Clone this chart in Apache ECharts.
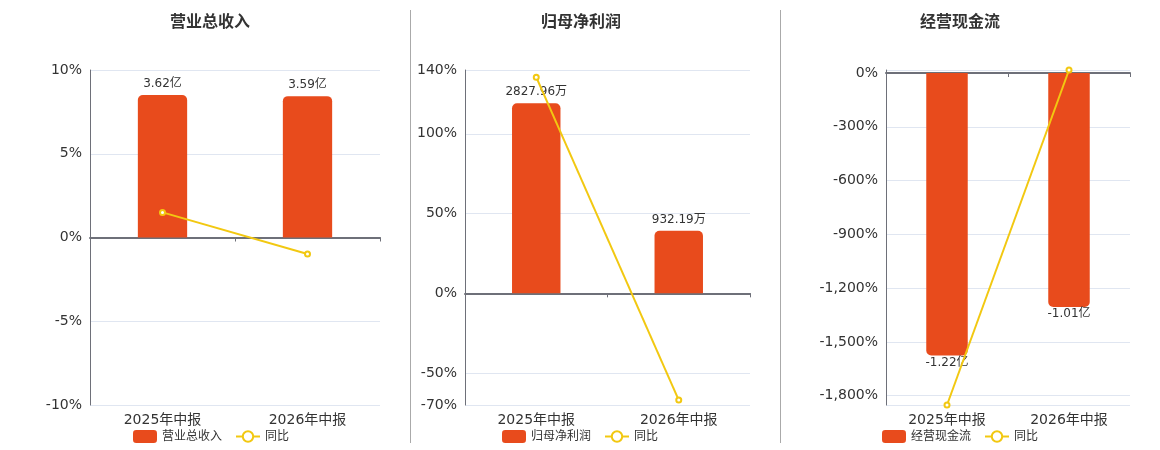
<!DOCTYPE html>
<html lang="zh-CN">
<head>
<meta charset="utf-8" />
<title>中报财务指标</title>
<style>
	html, body { margin: 0; padding: 0; background: #fff; }
	#main { width: 1160px; height: 450px; }
</style>
</head>
<body>
<div id="main"></div>
<script src="https://cdn.jsdelivr.net/npm/echarts@6/dist/echarts.min.js"></script>
<script>
// 报告期
const periods = ['2025年中报', '2026年中报'];
// 三个指标
const titles = ['营业总收入', '归母净利润', '经营现金流'];
// 柱子数值（单位：万元）
const revenue = [36200, 35900];
const netProfit = [2827.96, 932.19];
const cashFlow = [-12200, -10100];
// 同比（%）
const revenueYoy = [1.5, -0.98];
const netProfitYoy = [135.5, -66.9];
const cashFlowYoy = [-1852, 16.8];
// 左轴范围（%）
const yoyMin = [-10, -70, -1852];
const yoyMax = [10, 140, 16.8];

const barColor = '#E84B1C';
const lineColor = '#F2C811';
const font = '"DejaVu Sans", "Noto Sans CJK SC", sans-serif';

// 每个小图的位置
const layout = [
	{ left: 90, width: 290, center: 205, legendLeft: 128, hideEnds: false },
	{ left: 465, width: 285, center: 576, legendLeft: 497, hideEnds: false },
	{ left: 886, width: 244, center: 955, legendLeft: 877, hideEnds: true }
];
const barData = [revenue, netProfit, cashFlow];
const yoyData = [revenueYoy, netProfitYoy, cashFlowYoy];

function fmtMoney(v) {
	if (Math.abs(v) >= 10000) return (v / 10000).toFixed(2) + '亿';
	return v.toFixed(2) + '万';
}

const chart = echarts.init(document.getElementById('main'));
const option = {
	animation: false,
	textStyle: { fontFamily: font },
	title: [], legend: [], grid: [], xAxis: [], yAxis: [], series: [],
	graphic: [
		{ type: 'line', shape: { x1: 410.5, y1: 10, x2: 410.5, y2: 443 }, style: { stroke: '#aaa', lineWidth: 1 } },
		{ type: 'line', shape: { x1: 780.5, y1: 10, x2: 780.5, y2: 443 }, style: { stroke: '#aaa', lineWidth: 1 } }
	]
};

layout.forEach(function (p, i) {
	// 柱子轴和百分比轴的零点对齐
	const m = Math.max(Math.abs(yoyMin[i]), Math.abs(yoyMax[i]));
	const barAbs = Math.max.apply(null, barData[i].map(Math.abs)) * 1.175;
	const s = barAbs / m;

	option.title.push({
		text: titles[i],
		left: p.center, top: 10, textAlign: 'center',
		textStyle: { fontSize: 16, fontWeight: 'bold', color: '#333', fontFamily: font }
	});
	option.legend.push({
		data: [titles[i], '同比'],
		left: p.legendLeft, top: 425,
		itemWidth: 24, itemHeight: 13, itemGap: 13,
		textStyle: { fontSize: 12, color: '#333', fontFamily: font }
	});
	option.grid.push({ left: p.left, width: p.width, top: 70, bottom: 45 });

	option.xAxis.push({
		type: 'category', gridIndex: i, data: periods, position: 'bottom',
		axisLine: { show: false, onZero: false },
		axisTick: { show: false },
		axisLabel: { fontSize: 14, color: '#333', margin: 8, fontFamily: font }
	});
	option.xAxis.push({
		type: 'category', gridIndex: i, data: periods, position: 'bottom',
		axisLine: { show: true, onZero: true, lineStyle: { color: '#6E7079', width: 2 } },
		axisTick: { show: true, length: 4, lineStyle: { color: '#6E7079' } },
		axisLabel: { show: false }
	});

	option.yAxis.push({
		type: 'value', gridIndex: i, position: 'left',
		min: yoyMin[i], max: yoyMax[i],
		axisLine: { show: true, lineStyle: { color: '#6E7079' } },
		axisTick: { show: false },
		axisLabel: {
			fontSize: 14, color: '#333', formatter: '{value}%', fontFamily: font,
			showMinLabel: p.hideEnds ? false : null,
			showMaxLabel: p.hideEnds ? false : null
		},
		splitLine: { lineStyle: { color: '#E0E6F1' } }
	});
	option.yAxis.push({
		type: 'value', gridIndex: i, show: false,
		min: yoyMin[i] * s, max: yoyMax[i] * s,
		splitLine: { show: false }
	});

	option.series.push({
		name: titles[i], type: 'bar',
		xAxisIndex: i * 2, yAxisIndex: i * 2 + 1,
		barWidth: '34%',
		itemStyle: { color: barColor },
		data: barData[i].map(function (v) {
			return {
				value: v,
				itemStyle: { borderRadius: v >= 0 ? [5, 5, 0, 0] : [0, 0, 5, 5] },
				label: {
					show: true,
					position: v >= 0 ? 'top' : 'bottom',
					distance: v >= 0 ? 5 : 1,
					fontSize: 12, color: '#333', fontFamily: font,
					formatter: function (d) { return fmtMoney(d.value); }
				}
			};
		})
	});
	option.series.push({
		name: '同比', type: 'line',
		xAxisIndex: i * 2, yAxisIndex: i * 2,
		symbol: 'emptyCircle', symbolSize: 5, z: 5,
		lineStyle: { color: lineColor, width: 2 },
		itemStyle: { color: lineColor },
		data: yoyData[i]
	});
});

chart.setOption(option);
window.onresize = function () { chart.resize(); };
</script>
</body>
</html>
